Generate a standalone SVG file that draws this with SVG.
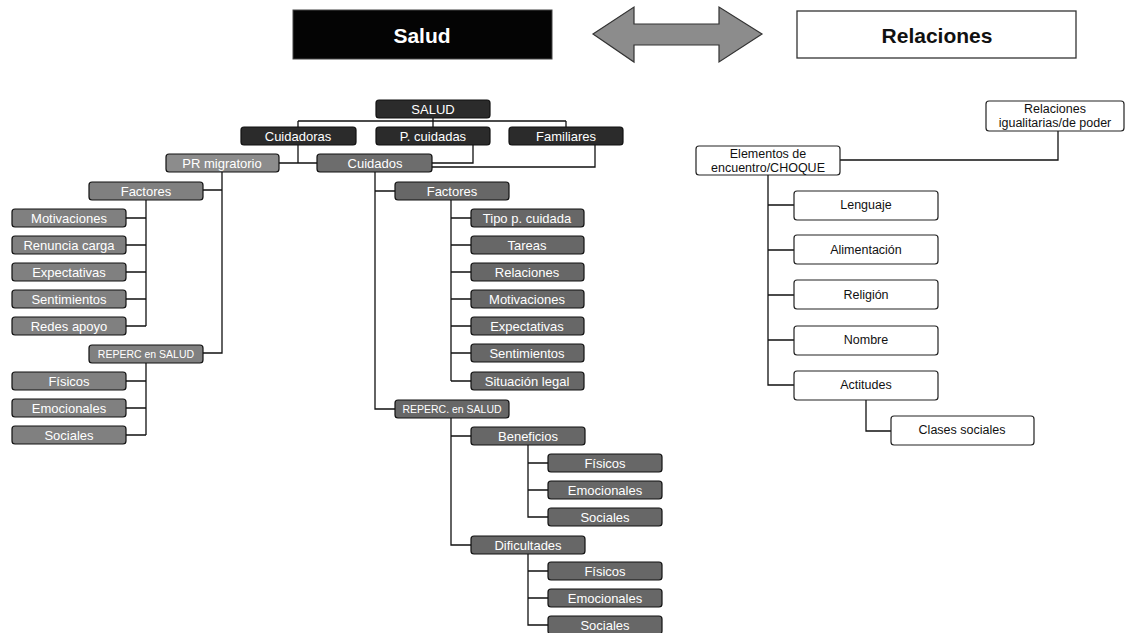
<svg xmlns="http://www.w3.org/2000/svg" width="1127" height="633" viewBox="0 0 1127 633">
<style>
text{font-family:"Liberation Sans",Arial,Helvetica,sans-serif;text-anchor:middle;dominant-baseline:central}
.hd{font-size:21px;font-weight:bold}
.n rect{stroke:#111;stroke-width:1.2}
.n text{font-size:13px;fill:#fff}
.dk rect{fill:#2b2b2b}
.lg rect{fill:#808080}
.mg rect{fill:#676767}
.w rect{fill:#fff;stroke:#222;stroke-width:1.2}
.w text{font-size:12.5px;fill:#111}
.sm text{font-size:10.5px}
#connectors path{fill:none;stroke:#111;stroke-width:1.3}
</style>
<g id="hdr-salud"><rect x="293" y="10" width="259" height="49" fill="#040404" stroke="#444" stroke-width="1"/><text class="hd" x="422" y="35" fill="#fff">Salud</text></g>
<g id="hdr-arrow"><polygon points="593,34 634,7 634,24 719,24 719,7 762,34 719,62 719,45 634,45 634,62" fill="#8c8c8c" stroke="#333" stroke-width="1.2"/></g>
<g id="hdr-relaciones"><rect x="797" y="11" width="279" height="47" fill="#fff" stroke="#333" stroke-width="1.3"/><text class="hd" x="937" y="35" fill="#111">Relaciones</text></g>

<g id="connectors">
<path d="M433 118V127M298 121H566M298 121V127M566 121V127"/>
<path d="M298 145V163M279 163H317"/>
<path d="M473 145V163H432"/>
<path d="M595 145V167H432"/>
<path d="M222 172V353H203M203 190H222"/>
<path d="M146 200V326M126 218H146M126 245H146M126 272H146M126 299H146M126 326H146"/>
<path d="M146 363V435M126 381H146M126 408H146M126 435H146"/>
<path d="M375 172V409H395M375 191H395"/>
<path d="M451 200V381M451 218H471M451 245H471M451 272H471M451 299H471M451 326H471M451 353H471M451 381H471"/>
<path d="M451 418V545H471M451 436H471"/>
<path d="M528 445V517H548M528 463H548M528 490H548"/>
<path d="M528 554V625H548M528 571H548M528 598H548"/>
<path d="M1058 131V160H840"/>
<path d="M768 175V385H794M768 205H794M768 250H794M768 295H794M768 340H794"/>
<path d="M866 400V431H891"/>
</g>

<g id="n-salud" class="n dk"><rect x="376" y="100" width="114" height="18" rx="3"/><text x="433" y="109">SALUD</text></g>
<g id="n-cuidadoras" class="n dk"><rect x="241" y="127" width="115" height="18" rx="3"/><text x="298" y="136">Cuidadoras</text></g>
<g id="n-pcuidadas" class="n dk"><rect x="376" y="127" width="114" height="18" rx="3"/><text x="433" y="136">P. cuidadas</text></g>
<g id="n-familiares" class="n dk"><rect x="509" y="127" width="114" height="18" rx="3"/><text x="566" y="136">Familiares</text></g>
<g id="n-prmig" class="n"><rect x="166" y="154" width="113" height="18" rx="3" fill="#8c8c8c"/><text x="222" y="163">PR migratorio</text></g>
<g id="n-cuidados" class="n"><rect x="317" y="154" width="115" height="18" rx="3" fill="#6d6d6d"/><text x="375" y="163">Cuidados</text></g>

<g id="l-factores" class="n lg"><rect x="89" y="182" width="114" height="18" rx="3"/><text x="146" y="191">Factores</text></g>
<g id="l-motivaciones" class="n lg"><rect x="12" y="209" width="114" height="18" rx="3"/><text x="69" y="218">Motivaciones</text></g>
<g id="l-renuncia" class="n lg"><rect x="12" y="236" width="114" height="18" rx="3"/><text x="69" y="245">Renuncia carga</text></g>
<g id="l-expectativas" class="n lg"><rect x="12" y="263" width="114" height="18" rx="3"/><text x="69" y="272">Expectativas</text></g>
<g id="l-sentimientos" class="n lg"><rect x="12" y="290" width="114" height="18" rx="3"/><text x="69" y="299">Sentimientos</text></g>
<g id="l-redes" class="n lg"><rect x="12" y="317" width="114" height="18" rx="3"/><text x="69" y="326">Redes apoyo</text></g>
<g id="l-reperc" class="n lg sm"><rect x="89" y="345" width="114" height="18" rx="3"/><text x="146" y="354">REPERC en SALUD</text></g>
<g id="l-fisicos" class="n lg"><rect x="12" y="372" width="114" height="18" rx="3"/><text x="69" y="381">Físicos</text></g>
<g id="l-emocionales" class="n lg"><rect x="12" y="399" width="114" height="18" rx="3"/><text x="69" y="408">Emocionales</text></g>
<g id="l-sociales" class="n lg"><rect x="12" y="426" width="114" height="18" rx="3"/><text x="69" y="435">Sociales</text></g>

<g id="m-factores" class="n mg"><rect x="395" y="182" width="114" height="18" rx="3"/><text x="452" y="191">Factores</text></g>
<g id="m-tipo" class="n mg"><rect x="471" y="209" width="113" height="18" rx="3"/><text x="527" y="218">Tipo p. cuidada</text></g>
<g id="m-tareas" class="n mg"><rect x="471" y="236" width="113" height="18" rx="3"/><text x="527" y="245">Tareas</text></g>
<g id="m-relaciones" class="n mg"><rect x="471" y="263" width="113" height="18" rx="3"/><text x="527" y="272">Relaciones</text></g>
<g id="m-motivaciones" class="n mg"><rect x="471" y="290" width="113" height="18" rx="3"/><text x="527" y="299">Motivaciones</text></g>
<g id="m-expectativas" class="n mg"><rect x="471" y="317" width="113" height="18" rx="3"/><text x="527" y="326">Expectativas</text></g>
<g id="m-sentimientos" class="n mg"><rect x="471" y="344" width="113" height="18" rx="3"/><text x="527" y="353">Sentimientos</text></g>
<g id="m-legal" class="n mg"><rect x="471" y="372" width="113" height="18" rx="3"/><text x="527" y="381">Situación legal</text></g>
<g id="m-reperc" class="n mg sm"><rect x="395" y="400" width="114" height="18" rx="3"/><text x="452" y="409">REPERC. en SALUD</text></g>
<g id="m-beneficios" class="n mg"><rect x="471" y="427" width="114" height="18" rx="3"/><text x="528" y="436">Beneficios</text></g>
<g id="m-b-fisicos" class="n mg"><rect x="548" y="454" width="114" height="18" rx="3"/><text x="605" y="463">Físicos</text></g>
<g id="m-b-emocionales" class="n mg"><rect x="548" y="481" width="114" height="18" rx="3"/><text x="605" y="490">Emocionales</text></g>
<g id="m-b-sociales" class="n mg"><rect x="548" y="508" width="114" height="18" rx="3"/><text x="605" y="517">Sociales</text></g>
<g id="m-dificultades" class="n mg"><rect x="471" y="536" width="114" height="18" rx="3"/><text x="528" y="545">Dificultades</text></g>
<g id="m-d-fisicos" class="n mg"><rect x="548" y="562" width="114" height="18" rx="3"/><text x="605" y="571">Físicos</text></g>
<g id="m-d-emocionales" class="n mg"><rect x="548" y="589" width="114" height="18" rx="3"/><text x="605" y="598">Emocionales</text></g>
<g id="m-d-sociales" class="n mg"><rect x="548" y="616" width="114" height="18" rx="3"/><text x="605" y="625">Sociales</text></g>

<g id="r-igualitarias" class="w"><rect x="986" y="101" width="138" height="30" rx="3"/><text x="1055" y="109">Relaciones</text><text x="1055" y="123">igualitarias/de poder</text></g>
<g id="r-elementos" class="w"><rect x="696" y="146" width="144" height="29" rx="3"/><text x="768" y="154">Elementos de</text><text x="768" y="168">encuentro/CHOQUE</text></g>
<g id="r-lenguaje" class="w"><rect x="794" y="191" width="144" height="29" rx="3"/><text x="866" y="205">Lenguaje</text></g>
<g id="r-alimentacion" class="w"><rect x="794" y="235" width="144" height="29" rx="3"/><text x="866" y="250">Alimentación</text></g>
<g id="r-religion" class="w"><rect x="794" y="280" width="144" height="29" rx="3"/><text x="866" y="295">Religión</text></g>
<g id="r-nombre" class="w"><rect x="794" y="326" width="144" height="29" rx="3"/><text x="866" y="340">Nombre</text></g>
<g id="r-actitudes" class="w"><rect x="794" y="371" width="144" height="29" rx="3"/><text x="866" y="385">Actitudes</text></g>
<g id="r-clases" class="w"><rect x="891" y="416" width="143" height="29" rx="3"/><text x="962" y="430">Clases sociales</text></g>
</svg>
